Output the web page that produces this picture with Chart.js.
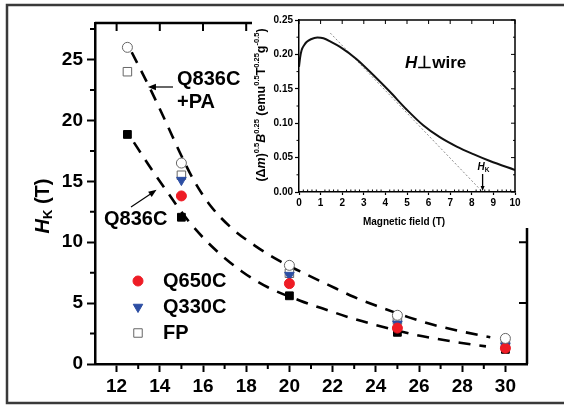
<!DOCTYPE html>
<html><head><meta charset="utf-8">
<script src="https://cdn.jsdelivr.net/npm/chart.js@4/dist/chart.umd.min.js"></script>
<style>
html,body{margin:0;padding:0;background:#fff;}
#wrap{position:relative;width:564px;height:407px;overflow:hidden;}
#main{position:absolute;left:0;top:0;}
#inset{position:absolute;left:252px;top:10px;}
</style></head><body>
<div id="wrap"><canvas id="main" width="564" height="407"></canvas><canvas id="inset" width="282" height="218"></canvas></div>
<script>
const FONT = "'Liberation Sans', Arial, sans-serif";

// ---- main chart data ----
const thickness = [12.5, 15, 20, 25, 30];
const thicknessQ = [15, 20, 25, 30];
const q836cPA = [26.0, 16.5, 8.1, 4.0, 2.1];
const fp = [24.0, 15.5, 7.45, 3.6, 1.6];
const q330c = [15.1, 7.3, 3.3, 1.5];
const q650c = [13.8, 6.6, 2.95, 1.3];
const q836c = [18.85, 12.05, 5.6, 2.6, 1.2];
const upperFitX = [12.7, 13.5, 14.3, 15.0, 15.6, 16.3, 17.3, 18.5, 19.5, 20.5, 21.8, 23.0, 24.0, 25.5, 26.7, 27.9, 29.3];
const upperFitY = [25.6, 22.8, 19.8, 17.1, 15.0, 13.1, 11.2, 9.6, 8.5, 7.6, 6.5, 5.5, 4.8, 3.85, 3.2, 2.7, 2.2];
const lowerFitX = [12.8, 13.5, 14.2, 15.3, 16.5, 17.8, 19.0, 20.5, 21.8, 22.9, 24.0, 25.7, 26.7, 27.9, 29.1];
const lowerFitY = [18.2, 16.3, 14.5, 11.8, 9.5, 7.6, 6.3, 5.2, 4.4, 3.75, 3.2, 2.45, 2.1, 1.75, 1.45];
const xTicks = [12, 14, 16, 18, 20, 22, 24, 26, 28, 30];
const xMinor = [13, 15, 17, 19, 21, 23, 25, 27, 29];
const yTicks = [0, 5, 10, 15, 20, 25];
const yMinor = [2.5, 7.5, 12.5, 17.5, 22.5, 27.5];

// ---- inset data ----
const fieldT = [0, 0.05, 0.12, 0.25, 0.35, 0.55, 0.85, 1.13, 1.5, 1.9, 2.67, 3.44, 4.2, 4.98, 5.75, 6.5, 7.3, 8.07, 8.84, 10];
const signal = [0.182, 0.195, 0.206, 0.214, 0.218, 0.222, 0.2245, 0.2235, 0.218, 0.211, 0.193, 0.170, 0.146, 0.120, 0.097, 0.080, 0.066, 0.055, 0.045, 0.032];
const tangentX = [1.45, 8.5];
const tangentY = [0.231, 0.0];
const hkValue = 8.5;
const insetXTicks = [0,1,2,3,4,5,6,7,8,9,10];
const insetYTicks = [0, 0.05, 0.10, 0.15, 0.20, 0.25];

const pts = (xs, ys) => xs.map((x, i) => ({x, y: ys[i]}));

function richText(ctx, parts, x, y, align) {
  let total = 0;
  parts.forEach(p => { ctx.font = (p.style||'bold') + ' ' + p.size + 'px ' + FONT; p.w = ctx.measureText(p.t).width; total += p.w; });
  let cx = align === 'center' ? x - total/2 : x;
  ctx.textAlign = 'left';
  ctx.textBaseline = 'middle';
  parts.forEach(p => { ctx.font = (p.style||'bold') + ' ' + p.size + 'px ' + FONT; ctx.fillText(p.t, cx, y + (p.dy||0)); cx += p.w; });
}

function arrow(ctx, x1, y1, x2, y2, head, lw) {
  const ang = Math.atan2(y2 - y1, x2 - x1);
  ctx.lineWidth = lw;
  ctx.beginPath(); ctx.moveTo(x1, y1);
  ctx.lineTo(x2 - Math.cos(ang)*head*0.8, y2 - Math.sin(ang)*head*0.8); ctx.stroke();
  ctx.beginPath();
  ctx.moveTo(x2, y2);
  ctx.lineTo(x2 - head*Math.cos(ang) + head*0.4*Math.sin(ang), y2 - head*Math.sin(ang) - head*0.4*Math.cos(ang));
  ctx.lineTo(x2 - head*Math.cos(ang) - head*0.4*Math.sin(ang), y2 - head*Math.sin(ang) + head*0.4*Math.cos(ang));
  ctx.closePath(); ctx.fill();
}

const mainDecor = {
  id: 'mainDecor',
  beforeDraw(chart) {
    const ctx = chart.ctx;
    ctx.save();
    ctx.fillStyle = '#fff'; ctx.fillRect(0, 0, chart.width, chart.height);
    ctx.strokeStyle = '#3a3a3a'; ctx.lineWidth = 2.5;
    ctx.beginPath();
    ctx.moveTo(564, 5); ctx.lineTo(7, 5); ctx.lineTo(7, 403); ctx.lineTo(564, 403);
    ctx.stroke();
    ctx.restore();
  },
  afterDraw(chart) {
    const {ctx, chartArea: a, scales: {x, y}} = chart;
    ctx.save();
    ctx.strokeStyle = '#000'; ctx.fillStyle = '#000'; ctx.lineWidth = 2.5;
    ctx.beginPath(); ctx.moveTo(a.left, a.top); ctx.lineTo(a.right, a.top); ctx.lineTo(a.right, a.bottom); ctx.stroke();
    ctx.lineWidth = 2;
    ctx.beginPath();
    xMinor.forEach(v => { const p = x.getPixelForValue(v); ctx.moveTo(p, a.bottom); ctx.lineTo(p, a.bottom + 5); });
    yMinor.forEach(v => { const p = y.getPixelForValue(v); ctx.moveTo(a.left, p); ctx.lineTo(a.left - 5, p); });
    xTicks.forEach(v => { const p = x.getPixelForValue(v); ctx.moveTo(p, a.top); ctx.lineTo(p, a.top + 8); });
    yTicks.forEach(v => { const p = y.getPixelForValue(v); ctx.moveTo(a.right, p); ctx.lineTo(a.right - 8, p); });
    ctx.stroke();

    // y title
    ctx.save();
    ctx.translate(43, 206); ctx.rotate(-Math.PI/2);
    richText(ctx, [
      {t: 'H', size: 20, style: 'italic bold'},
      {t: 'K', size: 13, dy: 5},
      {t: ' (T)', size: 20}
    ], 0, 0, 'center');
    ctx.restore();

    // annotations
    ctx.fillStyle = '#000';
    ctx.font = 'bold 20px ' + FONT;
    ctx.textAlign = 'left'; ctx.textBaseline = 'middle';
    ctx.fillText('Q836C', 177, 79);
    ctx.fillText('+PA', 177, 102);
    ctx.fillText('Q836C', 104, 219);
    ctx.strokeStyle = '#000';
    arrow(ctx, 173, 87, x.getPixelForValue(13.45), 87, 8, 1.2);
    arrow(ctx, 131, 207, x.getPixelForValue(13.85), y.getPixelForValue(14.3), 8, 1.2);

    // legend
    const legend = [
      {label: 'Q650C', ds: 3, yy: 281},
      {label: 'Q330C', ds: 2, yy: 307},
      {label: 'FP', ds: 1, yy: 333}
    ];
    legend.forEach(l => {
      const d = chart.data.datasets[l.ds];
      ctx.fillStyle = d.backgroundColor; ctx.strokeStyle = d.borderColor; ctx.lineWidth = d.borderWidth;
      Chart.helpers.drawPoint(ctx, {pointStyle: d.pointStyle, rotation: d.rotation || 0, radius: d.pointRadius, borderWidth: d.borderWidth}, 138, l.yy);
      ctx.fillStyle = '#000';
      ctx.font = 'bold 20px ' + FONT;
      ctx.textAlign = 'left'; ctx.textBaseline = 'middle';
      ctx.fillText(l.label, 163, l.yy);
    });
    ctx.restore();
  }
};

const tickFont = {family: FONT, size: 19, weight: 'bold'};

new Chart(document.getElementById('main'), {
  type: 'scatter',
  data: {
    datasets: [
      {label: 'Q836C+PA', data: pts(thickness, q836cPA), pointStyle: 'circle', pointRadius: 5, backgroundColor: '#fff', borderColor: '#666', borderWidth: 1, order: 1},
      {label: 'FP', data: pts(thickness, fp), pointStyle: 'rect', pointRadius: 6, backgroundColor: '#fff', borderColor: '#666', borderWidth: 1, order: 4},
      {label: 'Q330C', data: pts(thicknessQ, q330c), pointStyle: 'triangle', rotation: 180, pointRotation: 180, pointRadius: 5.5, backgroundColor: '#2c4ea3', borderColor: '#2c4ea3', borderWidth: 1, order: 3},
      {label: 'Q650C', data: pts(thicknessQ, q650c), pointStyle: 'circle', pointRadius: 5, backgroundColor: '#ee1c25', borderColor: '#ee1c25', borderWidth: 1, order: 2},
      {label: 'Q836C', data: pts(thickness, q836c), pointStyle: 'rect', pointRadius: 5.5, backgroundColor: '#000', borderColor: '#000', borderWidth: 1, order: 5},
      {label: 'fit PA', data: pts(upperFitX, upperFitY), showLine: true, pointRadius: 0, borderColor: '#000', borderWidth: 2.6, borderDash: [12, 9], cubicInterpolationMode: 'monotone', order: 6},
      {label: 'fit', data: pts(lowerFitX, lowerFitY), showLine: true, pointRadius: 0, borderColor: '#000', borderWidth: 2.6, borderDash: [12, 9], cubicInterpolationMode: 'monotone', order: 7}
    ]
  },
  options: {
    responsive: false, animation: false, devicePixelRatio: 1,
    layout: {padding: {top: 23, right: 37, left: 0, bottom: 0}},
    plugins: {legend: {display: false}, tooltip: {enabled: false}},
    scales: {
      x: {
        type: 'linear', min: 11, max: 31,
        afterBuildTicks: s => { s.ticks = xTicks.map(v => ({value: v})); },
        afterFit: s => { s.height = 43; },
        grid: {drawOnChartArea: false, drawTicks: true, tickLength: 8, tickColor: '#000', tickWidth: 2},
        border: {display: true, color: '#000', width: 2.5},
        ticks: {font: tickFont, color: '#000', padding: 3, maxRotation: 0, autoSkip: false}
      },
      y: {
        type: 'linear', min: 0, max: 28,
        afterBuildTicks: s => { s.ticks = yTicks.map(v => ({value: v})); },
        afterFit: s => { s.width = 95; },
        grid: {drawOnChartArea: false, drawTicks: true, tickLength: 8, tickColor: '#000', tickWidth: 2},
        border: {display: true, color: '#000', width: 2.5},
        ticks: {font: tickFont, color: '#000', padding: 4, autoSkip: false}
      }
    }
  },
  plugins: [mainDecor]
});

// ---- inset ----
const insetDecor = {
  id: 'insetDecor',
  beforeDraw(chart) {
    chart.ctx.save(); chart.ctx.fillStyle = '#fff'; chart.ctx.fillRect(0, 0, chart.width, chart.height); chart.ctx.restore();
  },
  afterDraw(chart) {
    const {ctx, chartArea: a, scales: {x, y}} = chart;
    ctx.save();
    ctx.strokeStyle = '#000'; ctx.fillStyle = '#000'; ctx.lineWidth = 1.5;
    ctx.beginPath(); ctx.moveTo(a.left, a.top); ctx.lineTo(a.right, a.top); ctx.lineTo(a.right, a.bottom); ctx.stroke();
    ctx.lineWidth = 1;
    ctx.beginPath();
    for (let i = 0; i < insetXTicks.length - 1; i++) {
      for (let k = 1; k < 5; k++) {
        const p = x.getPixelForValue(insetXTicks[i] + k * 0.2);
        ctx.moveTo(p, a.bottom); ctx.lineTo(p, a.bottom - 2.5);
      }
    }
    for (let i = 0; i < insetYTicks.length - 1; i++) {
      const p = y.getPixelForValue((insetYTicks[i] + insetYTicks[i+1]) / 2);
      ctx.moveTo(a.left, p); ctx.lineTo(a.left - 2.5, p);
      ctx.moveTo(a.right, p); ctx.lineTo(a.right - 2, p);
    }
    insetXTicks.forEach(v => { const p = x.getPixelForValue(v); ctx.moveTo(p, a.top); ctx.lineTo(p, a.top + 4); });
    insetYTicks.forEach(v => { const p = y.getPixelForValue(v); ctx.moveTo(a.right, p); ctx.lineTo(a.right - 4, p); });
    ctx.stroke();

    // axis titles
    ctx.fillStyle = '#000';
    ctx.font = 'bold 10px ' + FONT; ctx.textAlign = 'center'; ctx.textBaseline = 'middle';
    ctx.fillText('Magnetic field (T)', (a.left + a.right) / 2 - 3, 212);
    ctx.save();
    ctx.translate(10, 95); ctx.rotate(-Math.PI/2);
    const S = 12.5, s = 7.5, up = -5;
    richText(ctx, [
      {t: '(\u0394', size: S}, {t: 'm', size: S, style: 'italic bold'}, {t: ')', size: S},
      {t: '0.5', size: s, dy: up}, {t: 'B', size: S, style: 'italic bold'}, {t: '0.25', size: s, dy: up},
      {t: ' (emu', size: S}, {t: '0.5', size: s, dy: up}, {t: 'T', size: S}, {t: '0.25', size: s, dy: up},
      {t: 'g', size: S}, {t: '-0.5', size: s, dy: up}, {t: ')', size: S}
    ], 0, 0, 'center');
    ctx.restore();

    // H perp wire
    richText(ctx, [{t: 'H', size: 17, style: 'italic bold'}, {t: '\u22A5wire', size: 17}], 153, 53, 'left');
    // HK label + arrow
    const hx = x.getPixelForValue(hkValue);
    richText(ctx, [{t: 'H', size: 10, style: 'italic bold'}, {t: 'K', size: 6.5, dy: 3}], hx - 5, 157, 'left');
    arrow(ctx, hx, 164, hx, a.bottom - 1, 5, 1.3);
    ctx.restore();
  }
};

const insetFont = {family: FONT, size: 10, weight: 'bold'};
new Chart(document.getElementById('inset'), {
  type: 'scatter',
  data: {
    datasets: [
      {data: pts(fieldT, signal), showLine: true, pointRadius: 0, borderColor: '#111', borderWidth: 2, cubicInterpolationMode: 'monotone'},
      {data: pts(tangentX, tangentY), showLine: true, pointRadius: 0, borderColor: '#8c8c8c', borderWidth: 1, borderDash: [2, 2]}
    ]
  },
  options: {
    responsive: false, animation: false, devicePixelRatio: 1,
    layout: {padding: {top: 10, right: 19, left: 0, bottom: 0}},
    plugins: {legend: {display: false}, tooltip: {enabled: false}},
    scales: {
      x: {
        type: 'linear', min: 0, max: 10,
        afterBuildTicks: s => { s.ticks = insetXTicks.map(v => ({value: v})); },
        afterFit: s => { s.height = 36; },
        grid: {drawOnChartArea: false, drawTicks: true, tickLength: 3, tickColor: '#000', tickWidth: 1.2},
        border: {display: true, color: '#000', width: 1.5},
        ticks: {font: insetFont, color: '#000', padding: 2, maxRotation: 0, autoSkip: false}
      },
      y: {
        type: 'linear', min: 0, max: 0.25,
        afterBuildTicks: s => { s.ticks = insetYTicks.map(v => ({value: v})); },
        afterFit: s => { s.width = 47; },
        grid: {drawOnChartArea: false, drawTicks: true, tickLength: 4, tickColor: '#000', tickWidth: 1.2},
        border: {display: true, color: '#000', width: 1.5},
        ticks: {font: insetFont, color: '#000', padding: 2, autoSkip: false, callback: v => Number(v).toFixed(2)}
      }
    }
  },
  plugins: [insetDecor]
});
</script>
</body></html>
